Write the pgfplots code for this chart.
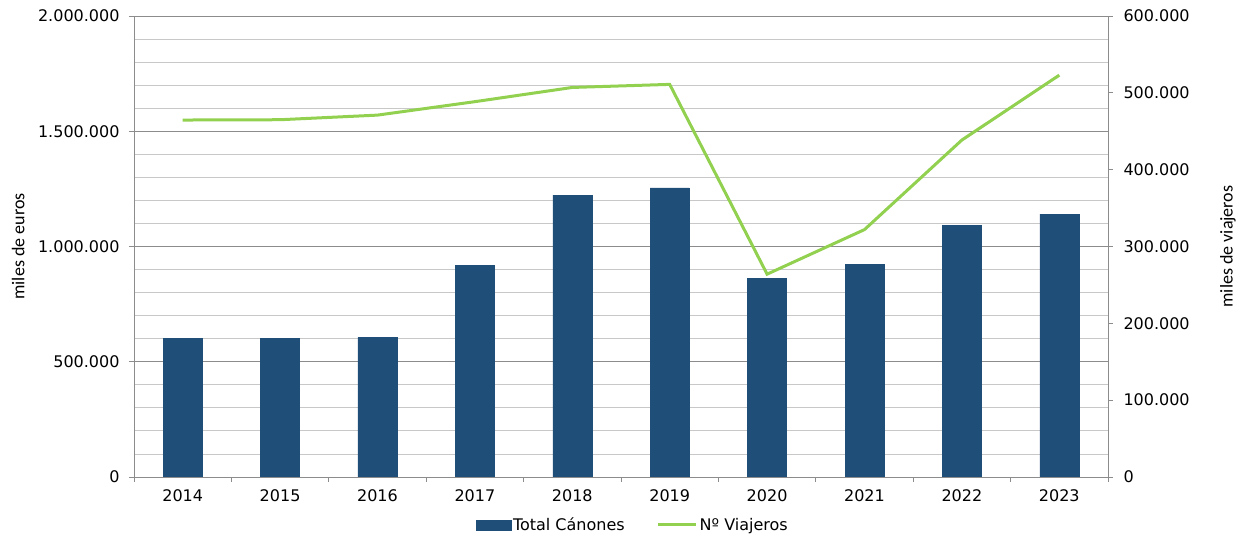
\documentclass[border=0pt]{standalone}
\usepackage{fontspec}
\setmainfont{DejaVu Sans}
\newfontfamily\labelfont{Carlito}
\usepackage{pgfplots}
\pgfplotsset{compat=1.18}
\definecolor{barblue}{RGB}{31,78,121}
\definecolor{linegreen}{RGB}{146,208,80}
\definecolor{majgrid}{RGB}{140,140,140}
\definecolor{mingrid}{RGB}{200,200,200}
\newcommand{\tickfont}{\fontsize{16}{19}\selectfont}
\begin{document}
\begin{tikzpicture}[x=1pt,y=1pt]
\useasboundingbox (-134,-61) rectangle (1106,477);
\pgfplotsset{
  common/.style={
    scale only axis, width=974pt, height=461pt,
    at={(0,0)}, anchor=south west,
    xmin=2013.5, xmax=2023.5,
    tick align=outside,
    major tick length=5pt, minor tick length=5pt,
    every tick/.style={majgrid, line width=0.8pt},
    axis line style={majgrid, line width=0.8pt},
    tick label style={font=\tickfont},
    /pgf/number format/assume math mode=true,
    yticklabel style={/pgf/number format/fixed, /pgf/number format/precision=0, /pgf/number format/1000 sep={.}},
    scaled y ticks=false,
  }
}
\begin{axis}[common,
  ymin=0, ymax=2000000,
  axis x line*=bottom, axis y line*=left,
  xtick={2014,2015,2016,2017,2018,2019,2020,2021,2022,2023},
  xticklabels={2014,2015,2016,2017,2018,2019,2020,2021,2022,2023},
  xticklabel style={yshift=-4pt},
  yticklabel style={xshift=-6pt},
  major x tick style={draw=none},
  minor xtick={2013.5,2014.5,2015.5,2016.5,2017.5,2018.5,2019.5,2020.5,2021.5,2022.5,2023.5},
  ytick={0,500000,1000000,1500000,2000000},
  minor ytick={100000,200000,300000,400000,600000,700000,800000,900000,1100000,1200000,1300000,1400000,1600000,1700000,1800000,1900000},
  minor y tick style={draw=none},
  ymajorgrids, yminorgrids,
  major grid style={majgrid, line width=0.8pt},
  minor grid style={mingrid, line width=0.8pt},
  every axis y label/.style={at={(axis description cs:-0.119,0.5)}, rotate=90, anchor=center},
  ylabel={\labelfont\fontsize{18}{20}\selectfont miles de euros},
]
\addplot[ybar, bar width=39pt, fill=barblue, draw=barblue] coordinates {
(2014,601000) (2015,603000) (2016,606000) (2017,917000) (2018,1223000)
(2019,1254000) (2020,862000) (2021,924000) (2022,1092000) (2023,1140000)
};
\end{axis}
\begin{axis}[common,
  ymin=0, ymax=600000,
  axis x line=none, axis y line*=right,
  ytick={0,100000,200000,300000,400000,500000,600000},
  yticklabel style={xshift=7pt},
  every axis y label/.style={at={(axis description cs:1.1232,0.5)}, rotate=90, anchor=center},
  ylabel={\labelfont\fontsize{18}{20}\selectfont miles de viajeros},
  legend style={at={(axis description cs:0.512,-0.104)}, anchor=center, draw=none, fill=none,
    font=\tickfont, /tikz/every even column/.append style={column sep=30pt}},
  legend columns=2,
]
\addlegendimage{legend image code/.code={\fill[barblue] (0pt,-5pt) rectangle (35pt,5pt);}}
\addlegendentry{Total Cánones}
\addplot[linegreen, line width=3pt, legend image code/.code={\draw[linegreen, line width=3pt] (0pt,0pt) -- (38pt,0pt);}] coordinates {
(2014,464600) (2015,465000) (2016,471000) (2017,488500) (2018,507000)
(2019,511000) (2020,264000) (2021,322000) (2022,438600) (2023,523000)
};
\addlegendentry{Nº Viajeros}
\end{axis}
\end{tikzpicture}
\end{document}
